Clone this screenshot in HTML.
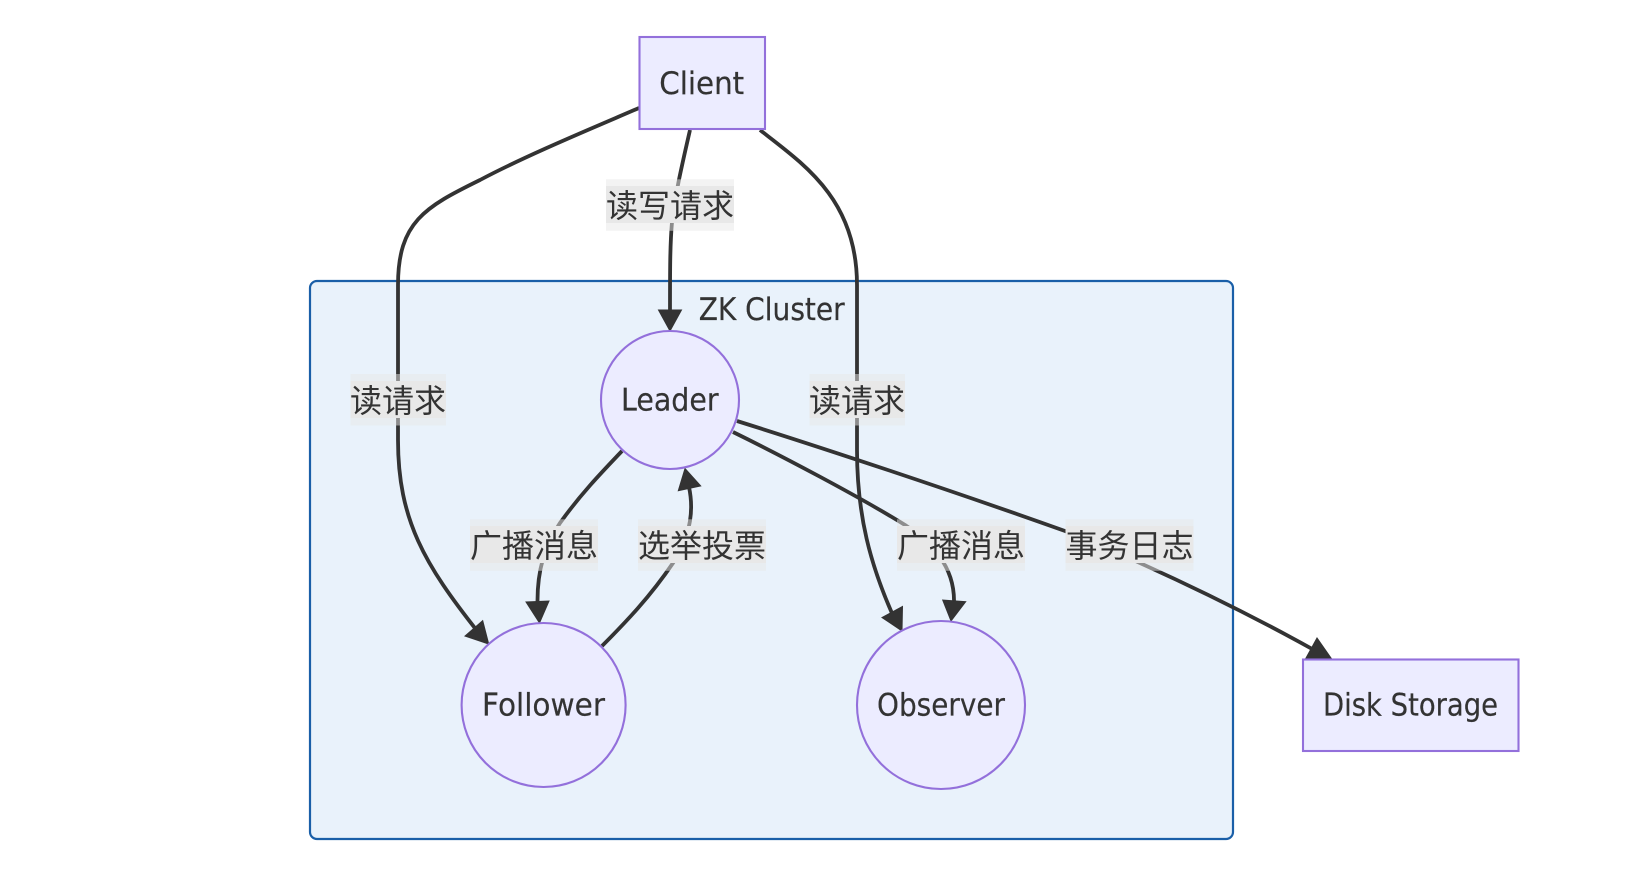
<!DOCTYPE html>
<html>
<head>
<meta charset="utf-8">
<style>
html,body{margin:0;padding:0;background:#fff;width:1636px;height:870px;overflow:hidden}
svg{display:block;filter:blur(.3px)}
.e{fill:none;stroke:#333;stroke-width:3.8}
.a{fill:#333;stroke:#333;stroke-width:1}
.o{fill:rgba(232,232,232,.5)}
.i{fill:#e8e8e8}
.n{fill:#ececff;stroke:#9370db;stroke-width:2.1}
.t{font-family:"DejaVu Sans","Liberation Sans",sans-serif;font-size:31px;fill:#333;stroke:#333;stroke-width:.2}
.l{font-family:"WenQuanYi Zen Hei","Noto Sans CJK SC",sans-serif;font-size:32px;fill:#333;text-anchor:middle}
</style>
</head>
<body>
<svg width="1636" height="870" viewBox="0 0 1636 870" xmlns="http://www.w3.org/2000/svg">
<rect x="310" y="281" width="923" height="558" rx="7" fill="#e9f2fb" stroke="#1a5fa8" stroke-width="2.2"/>
<text class="t" x="698.7" y="320" textLength="146" lengthAdjust="spacingAndGlyphs">ZK Cluster</text>

<path class="e" d="M639 108 C595 127 525 156 480 180 C425 207 398 222 398 285 L398 440 C398 520 425 565 478 632"/>
<polygon class="a" points="488.7,644 465,636 482.7,620.7"/>
<path class="e" d="M690 130 C682 165 675 195 672 222 C670 245 670 270 670 312"/>
<polygon class="a" points="670,331 658.5,310 681.5,310"/>
<path class="e" d="M760 130 C805 165 857 200 857 285 L857 450 C857 515 870 565 895 620"/>
<polygon class="a" points="902,631 882,617.5 902.5,606.5"/>
<path class="e" d="M622 451 C600 474 580 495 560 523 C545 545 537 570 537.5 604"/>
<polygon class="a" points="539.5,623 526,602 549,601"/>
<path class="e" d="M602 646 C625 623 650 597 673 563 C688 540 695 515 689 487"/>
<polygon class="a" points="685,468.5 678.3,490.7 700.7,486"/>
<path class="e" d="M733 432 C780 455 860 497 905 525 C930 542 955 565 954 603"/>
<polygon class="a" points="951,621 942.7,600 965.7,601.7"/>
<path class="e" d="M737 421 C820 447 950 490 1065 531 C1100 545 1125 556 1140 563 C1200 590 1260 620 1314 650"/>
<polygon class="a" points="1317,638 1306,658 1331,658"/>

<rect class="o" x="606" y="179.3" width="128" height="51.5"/><rect class="i" x="606" y="186" width="128" height="37"/>
<text class="l" x="670" y="217">读写请求</text>
<rect class="o" x="350.5" y="374" width="95.5" height="51.5"/><rect class="i" x="350.5" y="381" width="95.5" height="37"/>
<text class="l" x="398" y="412">读请求</text>
<rect class="o" x="809.5" y="374" width="95.5" height="51.5"/><rect class="i" x="809.5" y="381" width="95.5" height="37"/>
<text class="l" x="857" y="412">读请求</text>
<rect class="o" x="470" y="519.3" width="128" height="51.5"/><rect class="i" x="470" y="526" width="128" height="37"/>
<text class="l" x="534" y="557">广播消息</text>
<rect class="o" x="638" y="519.3" width="128" height="51.5"/><rect class="i" x="638" y="526" width="128" height="37"/>
<text class="l" x="702" y="557">选举投票</text>
<rect class="o" x="897" y="519.3" width="128" height="51.5"/><rect class="i" x="897" y="526" width="128" height="37"/>
<text class="l" x="961" y="557">广播消息</text>
<rect class="o" x="1065.5" y="519.3" width="128" height="51.5"/><rect class="i" x="1065.5" y="526" width="128" height="37"/>
<text class="l" x="1129.5" y="557">事务日志</text>

<rect class="n" x="639.5" y="37" width="125.5" height="92"/>
<text class="t" x="659.2" y="93.8" textLength="85" lengthAdjust="spacingAndGlyphs">Client</text>
<circle class="n" cx="670" cy="400" r="69"/>
<text class="t" x="621" y="410.7" textLength="97.6" lengthAdjust="spacingAndGlyphs">Leader</text>
<circle class="n" cx="543.6" cy="705" r="82"/>
<text class="t" x="482" y="715.7" textLength="123" lengthAdjust="spacingAndGlyphs">Follower</text>
<circle class="n" cx="941" cy="705" r="84"/>
<text class="t" x="877" y="715.7" textLength="128" lengthAdjust="spacingAndGlyphs">Observer</text>
<rect class="n" x="1303" y="659.5" width="215.5" height="91.5"/>
<text class="t" x="1323" y="715.7" textLength="175" lengthAdjust="spacingAndGlyphs">Disk Storage</text>
</svg>
</body>
</html>
